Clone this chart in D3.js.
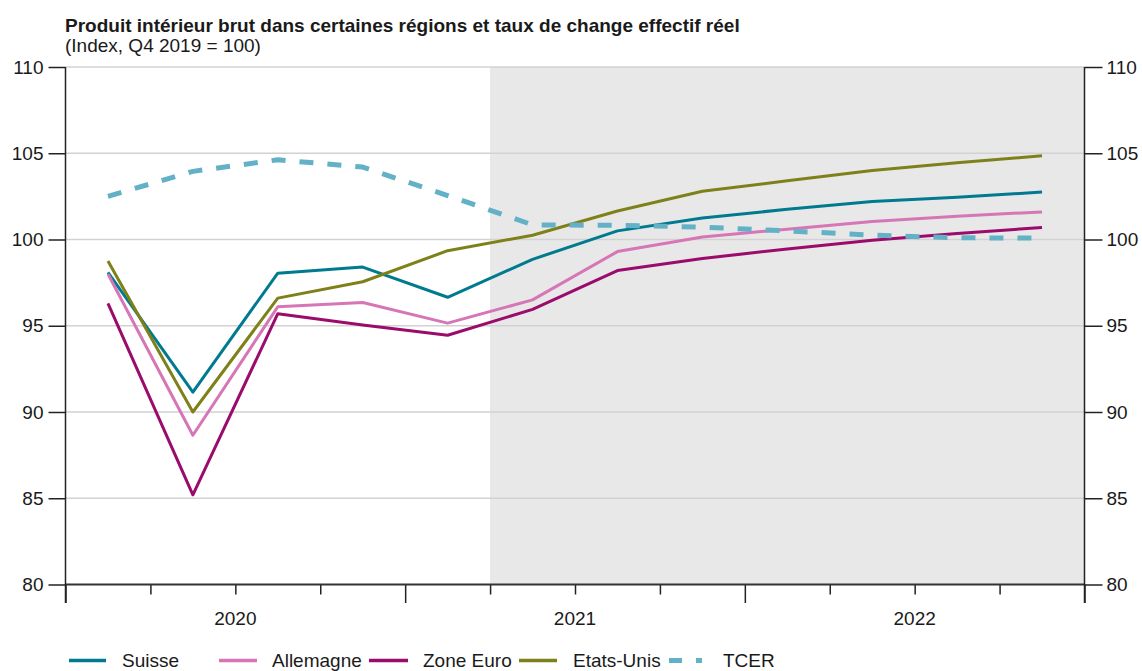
<!DOCTYPE html>
<html>
<head>
<meta charset="utf-8">
<script src="https://cdn.jsdelivr.net/npm/d3@7"></script>
<style>
  html, body { margin: 0; padding: 0; background: #ffffff; }
  svg { display: block; font-family: "Liberation Sans", Arial, sans-serif; }
</style>
</head>
<body>
<svg id="chart" width="1142" height="671"></svg>
<script>
// ---- Data ----
const quarters = ["Q1 2020","Q2 2020","Q3 2020","Q4 2020","Q1 2021","Q2 2021","Q3 2021","Q4 2021","Q1 2022","Q2 2022","Q3 2022","Q4 2022"];
const years = ["2020", "2021", "2022"];
const suisse    = [98.1, 91.15, 98.05, 98.4, 96.65, 98.85, 100.5, 101.25, 101.75, 102.2, 102.45, 102.75];
const allemagne = [98.0, 88.65, 96.1, 96.35, 95.15, 96.5, 99.3, 100.15, 100.6, 101.05, 101.35, 101.6];
const zoneEuro  = [96.3, 85.2, 95.7, 95.05, 94.45, 95.95, 98.2, 98.9, 99.45, 99.95, 100.35, 100.7];
const etatsUnis = [98.75, 90.0, 96.6, 97.55, 99.35, 100.25, 101.65, 102.8, 103.4, 104.0, 104.45, 104.85];
const tcer      = [102.5, 103.95, 104.62, 104.2, 102.55, 100.85, 100.82, 100.72, 100.5, 100.25, 100.1, 100.08];
const yTicks = [80, 85, 90, 95, 100, 105, 110];
const forecastStart = "Q2 2021";
const title = "Produit intérieur brut dans certaines régions et taux de change effectif réel";
const subtitle = "(Index, Q4 2019 = 100)";

const seriesNames = ["Suisse", "Allemagne", "Zone Euro", "Etats-Unis", "TCER"];
const seriesValues = [suisse, allemagne, zoneEuro, etatsUnis, tcer];
const seriesColors = ["#007a8f", "#d676b7", "#9a0b6c", "#7e8119", "#63b1c6"];

(function () {
// ---- Layout ----
const svg = d3.select("#chart");
const pL = 65.5, pR = 1084.5, pT = 67, pB = 584.5;

const x = d3.scaleLinear().domain([0, quarters.length]).range([pL, pR]);
const y = d3.scaleLinear().domain([80, 110]).range([pB, pT]);
const xc = i => x(i + 0.5);

// Title
svg.append("text").attr("x", 65).attr("y", 31.5)
  .attr("font-size", 19).attr("font-weight", "bold").attr("fill", "#1a1a1a")
  .text(title);
svg.append("text").attr("x", 65).attr("y", 52)
  .attr("font-size", 19).attr("fill", "#1a1a1a")
  .text(subtitle);

// Forecast shading
const fi = quarters.indexOf(forecastStart);
svg.append("rect")
  .attr("x", x(fi)).attr("y", pT)
  .attr("width", pR - x(fi)).attr("height", pB - pT)
  .attr("fill", "#e8e8e8");

// Gridlines
svg.append("g").selectAll("line").data(yTicks.filter(d => d !== 80)).join("line")
  .attr("x1", pL).attr("x2", pR)
  .attr("y1", d => y(d)).attr("y2", d => y(d))
  .attr("stroke", "#d2d2d2").attr("stroke-width", 1.5);

// Left axis
const gl = svg.append("g").attr("transform", `translate(${pL},0)`)
  .call(d3.axisLeft(y).tickValues(yTicks).tickSize(17).tickPadding(5).tickFormat(d3.format("d")));
gl.select(".domain").remove();
gl.selectAll(".tick line").attr("stroke", "#222").attr("stroke-width", 1.5);
gl.selectAll(".tick text").attr("font-size", 19).attr("fill", "#1a1a1a")
  .attr("font-family", "'Liberation Sans', Arial, sans-serif");

// Right axis
const gr = svg.append("g").attr("transform", `translate(${pR},0)`)
  .call(d3.axisRight(y).tickValues(yTicks).tickSize(18).tickPadding(4).tickFormat(d3.format("d")));
gr.select(".domain").remove();
gr.selectAll(".tick line").attr("stroke", "#222").attr("stroke-width", 1.5);
gr.selectAll(".tick text").attr("font-size", 19).attr("fill", "#1a1a1a")
  .attr("font-family", "'Liberation Sans', Arial, sans-serif");

// Bottom axis: quarter ticks, long at year boundaries
const gb = svg.append("g").attr("transform", `translate(0,${pB})`)
  .call(d3.axisBottom(x).tickValues(d3.range(0, quarters.length + 1)).tickSize(10).tickFormat(""));
gb.select(".domain").remove();
gb.selectAll(".tick line").attr("stroke", "#222").attr("stroke-width", 1.5)
  .attr("y2", d => (d % 4 === 0) ? 18.5 : 10);

svg.append("line").attr("x1", pL).attr("x2", pR).attr("y1", pB).attr("y2", pB)
  .attr("stroke", "#333").attr("stroke-width", 2);
svg.append("line").attr("x1", pL).attr("x2", pL).attr("y1", pT).attr("y2", pB + 18.5)
  .attr("stroke", "#222").attr("stroke-width", 1.5);
svg.append("line").attr("x1", pR).attr("x2", pR).attr("y1", pT).attr("y2", pB + 18.5)
  .attr("stroke", "#222").attr("stroke-width", 1.5);

// Year labels
svg.append("g").selectAll("text").data(years).join("text")
  .attr("x", (d, i) => x(i * 4 + 2)).attr("y", 625)
  .attr("text-anchor", "middle").attr("font-size", 19).attr("fill", "#1a1a1a")
  .text(d => d);

// Lines
const line = d3.line().x((d, i) => xc(i)).y(d => y(d)).curve(d3.curveLinear);
seriesValues.forEach((vals, k) => {
  const isT = seriesNames[k] === "TCER";
  svg.append("path").datum(vals)
    .attr("d", line)
    .attr("fill", "none")
    .attr("stroke", seriesColors[k])
    .attr("stroke-width", isT ? 5 : 3)
    .attr("stroke-linejoin", "round")
    .attr("stroke-dasharray", isT ? "14,14" : null);
});

// Legend
const legendItems = [
  { name: "Suisse", x1: 69, x2: 106, tx: 122 },
  { name: "Allemagne", x1: 219, x2: 257, tx: 272 },
  { name: "Zone Euro", x1: 369, x2: 408, tx: 423 },
  { name: "Etats-Unis", x1: 519, x2: 557, tx: 573 },
  { name: "TCER", x1: 669, x2: 702, tx: 723 }
];
const lg = svg.append("g");
legendItems.forEach((it) => {
  const idx = seriesNames.indexOf(it.name);
  const isT = it.name === "TCER";
  lg.append("line").attr("x1", it.x1).attr("x2", it.x2).attr("y1", 660.5).attr("y2", 660.5)
    .attr("stroke", seriesColors[idx]).attr("stroke-width", isT ? 5 : 3.5)
    .attr("stroke-dasharray", isT ? "13,14" : null);
  lg.append("text").attr("x", it.tx).attr("y", 666.5)
    .attr("font-size", 19).attr("fill", "#1a1a1a").text(it.name);
});
})();
</script>
</body>
</html>
